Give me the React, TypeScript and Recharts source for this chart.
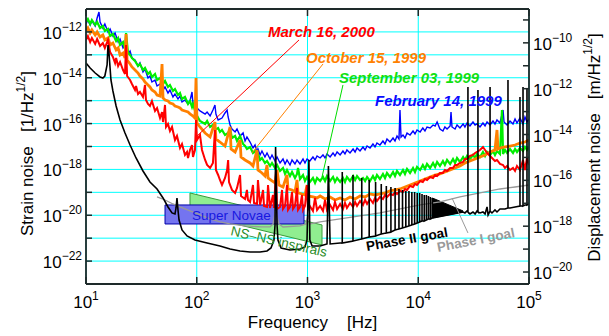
import React from "react";
import {
  ComposedChart,
  Line,
  Area,
  XAxis,
  YAxis,
  CartesianGrid,
  ReferenceLine,
  ReferenceDot,
} from "recharts";

const FONT = '"Liberation Sans", Arial, Helvetica, sans-serif';
const FRAME = "#1e2a2a";

// ---------- axes ----------
const freqTicks = [10, 100, 1000, 10000, 100000];
const strainTicks = [1e-22, 1e-21, 1e-20, 1e-19, 1e-18, 1e-17, 1e-16, 1e-15, 1e-14, 1e-13, 1e-12];
const dispTicks = [1e-20, 1e-19, 1e-18, 1e-17, 1e-16, 1e-15, 1e-14, 1e-13, 1e-12, 1e-11, 1e-10, 1e-9];
const freqDomain = [10, 100000];
const strainDomain = [1e-23, 1e-11];
const dispDomain = [3e-21, 3e-9];

// ---------- measured spectra [frequency Hz, strain 1/sqrt(Hz)] ----------
type P = [number, number];

const feb14_1999: P[] = [
  [10, 2.22e-12], [10.4, 3.31e-12], [10.9, 2.0e-12], [11.3, 3.0e-12], [12.1, 1.81e-12], [12.6, 4.05e-12], [13.1, 7.4e-12], [13.4, 2.71e-12],
  [14.2, 1.48e-12], [14.8, 2.22e-12], [15.8, 9.92e-13], [16.5, 1.34e-12], [17.5, 6.64e-13], [18.3, 8.97e-13], [19.5, 3.63e-13], [20.3, 4.91e-13],
  [21.6, 1.99e-13], [22.5, 2.69e-13], [23.9, 1.09e-13], [25, 1.47e-13], [26, 7.28e-14], [27.7, 5.95e-14], [29.5, 3.26e-14], [30.7, 4.41e-14],
  [32.7, 1.78e-14], [34.1, 2.41e-14], [36.3, 9.76e-15], [37.8, 1.19e-14], [39.4, 6.53e-15], [42, 7.99e-15], [43.8, 4.37e-15], [46.6, 5.34e-15],
  [49.6, 2.92e-15], [51.7, 3.95e-15], [55, 2.16e-15], [57.3, 2.92e-15], [61, 1.45e-15], [63.6, 1.96e-15], [67.7, 1.18e-15], [70.6, 1.6e-15],
  [73.6, 8.76e-16], [78.3, 1.07e-15], [83.4, 7.16e-16], [86.9, 9.68e-16], [90.6, 2.39e-15], [92.5, 7.16e-16], [98.5, 5.3e-16], [107, 3.55e-16],
  [119, 2.62e-16], [124, 3.21e-16], [132, 2.15e-16], [140, 3.92e-16], [146, 6.48e-16], [149, 2.62e-16], [156, 1.44e-16], [169, 1.75e-16],
  [180, 2.9e-16], [188, 3.92e-16], [192, 1.94e-16], [200, 8.69e-17], [208, 5.81e-17], [222, 4.3e-17], [231, 5.81e-17], [246, 2.88e-17],
  [262, 3.89e-17], [273, 1.74e-17], [284, 2.6e-17], [303, 1.57e-17], [322, 8.62e-18], [336, 1.16e-17], [350, 5.22e-18], [357, 7.79e-18],
  [373, 4.27e-18], [388, 6.37e-18], [413, 3.49e-18], [431, 5.22e-18], [459, 2.85e-18], [478, 4.27e-18], [509, 2.33e-18], [531, 3.49e-18],
  [565, 1.91e-18], [601, 2.85e-18], [627, 1.73e-18], [653, 2.58e-18], [695, 1.56e-18], [725, 2.58e-18], [771, 1.73e-18], [804, 2.58e-18],
  [856, 1.73e-18], [911, 2.85e-18], [949, 1.91e-18], [990, 2.85e-18], [1050, 2.33e-18], [1120, 3.49e-18], [1170, 2.58e-18], [1220, 3.86e-18],
  [1300, 3.16e-18], [1380, 4.27e-18], [1440, 3.16e-18], [1500, 4.72e-18], [1600, 3.49e-18], [1700, 5.22e-18], [1770, 3.86e-18], [1850, 5.77e-18],
  [1970, 4.27e-18], [2090, 6.37e-18], [2180, 4.72e-18], [2270, 7.05e-18], [2420, 5.22e-18], [2580, 7.79e-18], [2690, 5.77e-18], [2800, 8.62e-18],
  [2980, 6.37e-18], [3170, 9.53e-18], [3310, 7.05e-18], [3450, 1.05e-17], [3670, 8.62e-18], [3900, 1.29e-17], [4070, 9.53e-18], [4240, 1.42e-17],
  [4510, 1.16e-17], [4800, 1.74e-17], [5010, 1.29e-17], [5220, 2.13e-17], [5560, 1.57e-17], [5920, 2.35e-17], [6170, 1.74e-17], [6430, 2.88e-17],
  [6700, 2.13e-17], [6840, 3.92e-16], [6990, 2.6e-17], [7280, 3.18e-17], [7590, 2.35e-17], [7920, 3.89e-17], [8430, 3.18e-17], [8970, 4.75e-17],
  [9350, 3.52e-17], [9750, 5.26e-17], [10400, 4.3e-17], [11000, 6.43e-17], [11500, 4.75e-17], [12000, 7.11e-17], [12800, 6.43e-17], [13600, 8.69e-17],
  [14200, 7.86e-17], [14800, 1.17e-16], [15700, 5.81e-17], [16700, 4.75e-17], [17400, 7.11e-17], [18200, 5.81e-17], [19400, 7.86e-17], [19760, 3.21e-16],
  [20170, 7.11e-17], [21500, 5.81e-17], [22400, 8.69e-17], [23800, 6.43e-17], [25400, 9.61e-17], [26400, 7.11e-17], [27600, 1.06e-16], [29300, 7.86e-17],
  [31200, 1.17e-16], [32600, 8.69e-17], [33900, 9.61e-17], [36100, 7.11e-17], [38400, 1.06e-16], [40100, 7.86e-17], [41800, 1.17e-16], [44500, 8.69e-17],
  [47300, 1.3e-16], [49300, 9.61e-17], [51400, 1.44e-16], [54700, 1.06e-16], [58300, 3.92e-16], [59500, 1.17e-16], [63300, 8.69e-17], [67400, 1.3e-16],
  [71700, 9.61e-17], [74800, 1.59e-16], [77900, 1.06e-16], [82900, 1.75e-16], [88300, 9.61e-17], [92000, 1.94e-16], [95900, 1.17e-16], [100000, 1.59e-16],
];

const sep03_1999: P[] = [
  [10, 2.71e-12], [10.4, 3.66e-12], [10.9, 2.22e-12], [11.3, 3.31e-12], [12.1, 2.0e-12], [12.6, 2.71e-12], [13.4, 1.48e-12], [14.2, 1.81e-12],
  [14.8, 1.1e-12], [15.8, 1.34e-12], [16.5, 6.64e-13], [17.5, 8.11e-13], [18.7, 4.02e-13], [19.5, 5.43e-13], [20.3, 2.69e-13], [21.6, 3.63e-13],
  [22.5, 1.8e-13], [23.0, 8.97e-13], [23.9, 1.33e-13], [25, 9.84e-14], [26, 7.28e-14], [27.7, 5.38e-14], [29.5, 3.26e-14], [30.7, 3.98e-14],
  [32.7, 2.18e-14], [34.1, 2.67e-14], [36.3, 1.46e-14], [37.8, 1.78e-14], [39.4, 1.08e-14], [42, 1.46e-14], [43.8, 7.99e-15], [46.6, 9.76e-15],
  [49.6, 5.34e-15], [51.7, 7.22e-15], [55, 3.95e-15], [57.3, 4.83e-15], [61, 2.64e-15], [63.6, 3.23e-15], [67.7, 1.77e-15], [70.6, 2.16e-15],
  [73.6, 1.18e-15], [78.3, 1.45e-15], [83.4, 7.16e-16], [86.9, 9.68e-16], [90.6, 5.3e-16], [92.5, 7.16e-16], [98.5, 2.62e-16], [107, 1.3e-16],
  [119, 9.61e-17], [124, 1.3e-16], [132, 7.11e-17], [140, 8.69e-17], [146, 5.26e-17], [156, 6.43e-17], [162, 4.3e-17], [169, 5.26e-17],
  [180, 3.18e-17], [192, 3.89e-17], [200, 5.81e-17], [208, 2.35e-17], [222, 2.88e-17], [231, 1.74e-17], [246, 2.88e-17], [262, 1.29e-17],
  [273, 1.05e-17], [284, 7.79e-18], [303, 9.53e-18], [322, 5.22e-18], [336, 6.37e-18], [350, 3.86e-18], [357, 4.72e-18], [373, 2.58e-18],
  [388, 3.16e-18], [413, 1.91e-18], [431, 2.33e-18], [459, 1.41e-18], [478, 1.91e-18], [509, 1.16e-18], [531, 1.56e-18], [565, 8.55e-19],
  [601, 1.16e-18], [627, 6.32e-19], [653, 9.45e-19], [695, 5.17e-19], [725, 7.73e-19], [771, 4.23e-19], [804, 6.32e-19], [821, 1.16e-18],
  [856, 3.83e-19], [911, 5.72e-19], [949, 3.13e-19], [990, 4.68e-19], [1050, 2.83e-19], [1120, 4.23e-19], [1170, 2.56e-19], [1220, 4.23e-19],
  [1300, 3.13e-19], [1380, 4.68e-19], [1440, 3.13e-19], [1500, 5.17e-19], [1600, 3.13e-19], [1700, 4.68e-19], [1770, 2.83e-19], [1850, 4.23e-19],
  [1970, 2.83e-19], [2090, 4.23e-19], [2180, 2.83e-19], [2270, 4.68e-19], [2420, 3.13e-19], [2580, 5.17e-19], [2690, 3.46e-19], [2800, 5.17e-19],
  [2980, 3.46e-19], [3170, 4.23e-19], [3310, 3.13e-19], [3450, 4.68e-19], [3670, 3.13e-19], [3900, 5.17e-19], [4070, 3.46e-19], [4240, 5.72e-19],
  [4510, 3.83e-19], [4800, 6.32e-19], [5010, 4.23e-19], [5220, 6.99e-19], [5560, 4.68e-19], [5920, 7.73e-19], [6170, 5.17e-19], [6430, 8.55e-19],
  [6840, 5.72e-19], [7280, 9.45e-19], [7590, 6.32e-19], [7920, 1.05e-18], [8430, 6.99e-19], [8970, 1.16e-18], [9350, 7.73e-19], [9750, 1.28e-18],
  [10400, 9.45e-19], [11000, 1.56e-18], [11500, 1.05e-18], [12000, 1.73e-18], [12800, 1.16e-18], [13600, 1.91e-18], [14200, 1.28e-18], [14800, 2.11e-18],
  [15700, 1.41e-18], [16700, 2.33e-18], [17400, 1.56e-18], [18200, 2.58e-18], [19400, 1.73e-18], [20600, 2.85e-18], [21500, 1.91e-18], [22400, 3.16e-18],
  [23800, 2.11e-18], [25400, 3.49e-18], [26400, 2.58e-18], [27600, 3.86e-18], [29300, 2.85e-18], [31200, 4.27e-18], [32600, 3.16e-18], [33900, 4.72e-18],
  [36100, 3.49e-18], [38400, 5.77e-18], [40100, 3.86e-18], [41800, 5.77e-18], [44500, 4.27e-18], [47300, 6.37e-18], [49300, 4.27e-18], [51400, 6.37e-18],
  [54700, 4.72e-18], [57000, 3.92e-16], [58300, 4.72e-18], [60700, 7.05e-18], [63300, 5.22e-18], [67400, 7.79e-18], [71700, 5.22e-18], [74800, 7.79e-18],
  [77900, 5.77e-18], [82900, 8.62e-18], [88300, 6.37e-18], [92000, 9.53e-18], [95900, 7.05e-18], [100000, 9.53e-18],
];

const oct15_1999: P[] = [
  [10, 1.1e-12], [10.4, 1.48e-12], [10.9, 8.97e-13], [11.3, 1.21e-12], [12.1, 7.34e-13], [12.6, 9.92e-13], [13.4, 6.0e-13], [14.2, 7.34e-13],
  [14.8, 4.44e-13], [15.8, 5.43e-13], [16.5, 2.69e-13], [17.5, 3.28e-13], [18.7, 1.63e-13], [19.5, 1.99e-13], [20.3, 9.84e-14], [21.6, 1.2e-13],
  [22.5, 7.28e-14], [23.0, 8.11e-13], [23.5, 5.95e-14], [25, 3.98e-14], [26, 2.95e-14], [27.7, 2.18e-14], [29.5, 1.61e-14], [30.7, 1.19e-14],
  [32.7, 8.83e-15], [34.1, 6.53e-15], [36.3, 4.83e-15], [37.8, 3.95e-15], [39.4, 2.92e-15], [42, 2.39e-15], [43.8, 1.77e-15], [46.6, 1.6e-15],
  [48.6, 3.98e-14], [49.6, 1.31e-15], [51.7, 1.07e-15], [55, 9.68e-16], [57.3, 7.92e-16], [61, 7.16e-16], [63.6, 5.86e-16], [67.7, 5.3e-16],
  [70.6, 4.79e-16], [73.6, 3.92e-16], [78.3, 3.55e-16], [83.4, 3.21e-16], [86.9, 2.62e-16], [92.5, 2.15e-16], [96.4, 1.75e-16], [98.5, 9.76e-15],
  [100.5, 1.06e-16], [107, 7.11e-17], [119, 3.89e-17], [132, 2.6e-17], [146, 1.17e-16], [149, 2.13e-17], [162, 1.57e-17], [180, 1.05e-17],
  [200, 7.11e-17], [204, 7.79e-18], [222, 5.77e-18], [246, 1.93e-17], [251, 3.49e-18], [273, 2.58e-18], [303, 1.91e-18], [322, 1.41e-18],
  [350, 7.05e-18], [357, 9.45e-19], [388, 6.99e-19], [413, 5.17e-19], [431, 1.56e-18], [440, 4.23e-19], [478, 3.13e-19], [509, 2.56e-19],
  [531, 9.45e-19], [553, 2.09e-19], [601, 1.71e-19], [653, 5.72e-19], [667, 1.4e-19], [725, 1.27e-19], [771, 1.04e-19], [804, 3.46e-19],
  [821, 9.38e-20], [892, 8.48e-20], [949, 7.67e-20], [990, 2.09e-19], [1010, 6.94e-20], [1120, 6.27e-20], [1220, 5.67e-20], [1300, 6.94e-20],
  [1440, 5.13e-20], [1600, 6.27e-20], [1770, 4.64e-20], [1970, 5.67e-20], [2180, 4.64e-20], [2420, 6.27e-20], [2690, 5.13e-20], [2980, 6.94e-20],
  [3310, 6.27e-20], [3670, 8.48e-20], [4070, 7.67e-20], [4510, 8.48e-20], [5010, 9.38e-20], [5560, 1.15e-19], [6170, 1.27e-19], [6840, 1.4e-19],
  [7590, 1.71e-19], [8430, 2.09e-19], [9350, 2.56e-19], [10400, 3.13e-19], [11500, 3.83e-19], [12800, 4.68e-19], [14200, 5.72e-19], [15700, 6.32e-19],
  [17400, 7.73e-19], [19400, 9.45e-19], [21500, 1.16e-18], [23800, 1.41e-18], [26400, 1.91e-18], [29300, 2.33e-18], [32600, 2.85e-18], [36100, 3.49e-18],
  [40100, 4.27e-18], [44500, 5.77e-18], [49300, 7.05e-18], [51400, 5.26e-17], [52500, 7.79e-18], [54700, 8.62e-18], [60700, 9.53e-18], [67400, 1.05e-17],
  [74800, 1.16e-17], [82900, 1.42e-17], [92000, 1.57e-17], [100000, 1.93e-17],
];

const mar16_2000: P[] = [
  [10, 4.44e-13], [10.4, 6.64e-13], [10.9, 3.63e-13], [11.3, 5.43e-13], [12.1, 2.97e-13], [12.6, 4.91e-13], [13.4, 2.43e-13], [14.2, 3.28e-13],
  [14.8, 1.99e-13], [15.8, 4.44e-13], [16.5, 1.33e-13], [17.5, 8.05e-14], [18.3, 4.41e-14], [18.7, 7.28e-14], [19.5, 3.26e-14], [20.3, 4.87e-14],
  [21.6, 2.18e-14], [22.5, 1.46e-14], [23.0, 2.69e-13], [23.5, 1.19e-14], [25, 7.99e-15], [26, 5.34e-15], [27.7, 2.92e-15], [28.3, 4.37e-15],
  [29.5, 1.96e-15], [30.7, 2.39e-15], [32.7, 1.45e-15], [34.1, 4.83e-15], [34.8, 1.07e-15], [36.3, 7.16e-16], [37.8, 5.86e-16], [39.4, 9.68e-16],
  [42, 3.55e-16], [43.8, 4.79e-16], [46.6, 1.75e-16], [48.6, 3.21e-16], [49.6, 1.17e-16], [51.7, 6.48e-16], [52.8, 7.11e-17], [55, 9.61e-17],
  [57.3, 4.75e-17], [59.8, 7.11e-17], [63.6, 1.93e-17], [66.3, 2.88e-17], [70.6, 8.62e-18], [73.6, 1.29e-17], [78.3, 4.27e-18], [81.7, 5.77e-18],
  [83.4, 3.16e-18], [86.9, 7.05e-18], [90.6, 1.16e-17], [92.5, 3.49e-18], [96.4, 7.05e-18], [98.5, 1.44e-16], [100.5, 1.93e-17], [107, 3.18e-17],
  [111.5, 7.05e-18], [119, 2.58e-18], [124, 1.56e-18], [132, 1.16e-18], [140, 1.91e-18], [146, 5.26e-17], [149, 9.45e-19], [156, 5.72e-19],
  [162, 3.46e-19], [169, 2.09e-19], [180, 4.23e-19], [188, 9.45e-19], [192, 2.58e-18], [195.5, 2.83e-19], [208, 1.27e-19], [222, 9.38e-20],
  [231, 1.55e-19], [246, 5.72e-19], [251, 6.94e-20], [273, 5.13e-20], [284, 1.27e-19], [290, 4.64e-20], [303, 3.8e-20], [322, 2.09e-19],
  [329, 3.43e-20], [350, 3.11e-20], [357, 3.46e-19], [373, 2.81e-20], [397, 1.27e-19], [405, 2.54e-20], [431, 2.3e-20], [440, 2.09e-19],
  [459, 2.08e-20], [488, 7.67e-20], [498, 2.08e-20], [520, 9.45e-19], [531, 1.88e-20], [565, 2.3e-20], [589, 1.27e-19], [601, 1.88e-20],
  [627, 2.54e-20], [653, 2.09e-19], [667, 1.7e-20], [695, 2.3e-20], [725, 1.04e-19], [740, 1.88e-20], [771, 2.54e-20], [804, 1.55e-19],
  [821, 1.7e-20], [856, 2.3e-20], [892, 7.67e-20], [911, 1.7e-20], [949, 2.54e-20], [990, 2.09e-19], [1010, 1.7e-20], [1050, 2.54e-20],
  [1120, 1.54e-20], [1170, 5.67e-20], [1220, 1.7e-20], [1300, 2.54e-20], [1380, 1.54e-20], [1440, 4.64e-20], [1500, 1.7e-20], [1600, 2.81e-20],
  [1700, 1.7e-20], [1770, 3.8e-20], [1850, 1.88e-20], [1970, 3.11e-20], [2090, 1.88e-20], [2180, 3.43e-20], [2270, 2.08e-20], [2420, 3.43e-20],
  [2580, 2.3e-20], [2690, 3.8e-20], [2800, 2.54e-20], [2980, 4.2e-20], [3170, 2.81e-20], [3310, 4.64e-20], [3450, 3.11e-20], [3670, 5.13e-20],
  [3900, 3.43e-20], [4070, 5.67e-20], [4240, 4.2e-20], [4510, 6.27e-20], [4800, 5.13e-20], [5010, 7.67e-20], [5220, 6.27e-20], [5560, 8.48e-20],
  [5920, 7.67e-20], [6170, 1.04e-19], [6430, 8.48e-20], [6840, 1.15e-19], [7280, 1.04e-19], [7590, 1.4e-19], [7920, 1.27e-19], [8430, 1.89e-19],
  [8970, 1.71e-19], [9350, 2.32e-19], [9750, 2.09e-19], [10400, 3.13e-19], [11000, 2.83e-19], [11500, 3.83e-19], [12000, 3.46e-19], [12800, 4.68e-19],
  [13600, 4.23e-19], [14200, 5.72e-19], [14800, 5.17e-19], [15700, 6.99e-19], [16700, 6.99e-19], [17400, 9.45e-19], [18200, 8.55e-19], [19400, 1.16e-18],
  [20600, 1.16e-18], [21500, 1.56e-18], [22400, 1.56e-18], [23800, 1.91e-18], [25400, 2.11e-18], [26400, 2.85e-18], [27600, 2.85e-18], [29300, 3.86e-18],
  [31200, 4.27e-18], [32600, 5.22e-18], [33900, 5.77e-18], [36100, 7.05e-18], [38400, 9.53e-18], [40100, 7.05e-18], [41800, 5.22e-18], [44500, 3.86e-18],
  [47300, 2.85e-18], [49300, 2.33e-18], [51400, 2.58e-18], [54700, 1.73e-18], [58300, 1.56e-18], [60700, 1.16e-18], [63300, 1.41e-18], [67400, 9.45e-19],
  [71700, 1.16e-18], [74800, 8.55e-19], [77900, 1.41e-18], [82900, 9.45e-19], [88300, 2.58e-18], [92000, 9.45e-19], [95900, 3.16e-18], [100000, 1.56e-18],
];

// ---------- design sensitivity goals ----------
const phaseIIGoal: P[] = [
  [10, 4.41e-14], [10.9, 2.67e-14], [12.1, 1.61e-14], [13.4, 1.08e-14], [14.2, 9.76e-15], [14.8, 1.19e-14], [15.5, 3.6e-14], [15.8, 2.69e-13],
  [16.1, 1.33e-13], [16.8, 7.99e-15], [17.5, 2.64e-15], [18.7, 5.86e-16], [20.3, 1.44e-16], [22.5, 3.89e-17], [25, 1.16e-17], [28.3, 3.16e-18],
  [32.7, 8.55e-19], [37.8, 2.83e-19], [43.8, 1.4e-19], [49.6, 5.67e-20], [55, 2.3e-20], [59.8, 1.26e-20], [63.6, 1.14e-20], [65, 2.08e-20],
  [66.3, 5.67e-20], [67.7, 1.7e-20], [69.2, 6.22e-21], [73.6, 2.28e-21], [81.7, 1.25e-21], [96.4, 8.35e-22], [124, 6.17e-22], [162, 4.57e-22],
  [200, 3.38e-22], [246, 2.76e-22], [303, 2.5e-22], [373, 2.5e-22], [431, 2.76e-22], [468, 3.74e-22], [498, 8.35e-22], [509, 3.77e-21],
  [515, 9.53e-18], [531, 3.77e-21], [541, 8.35e-22], [577, 3.74e-22], [695, 3.06e-22], [856, 3.38e-22], [949, 4.13e-22], [990, 8.35e-22],
  [1030, 2.58e-18], [1050, 8.35e-22], [1100, 4.57e-22], [1300, 4.57e-22], [1500, 5.58e-22], [1545, 1.41e-18], [1600, 5.58e-22], [1970, 6.17e-22],
  [2060, 6.17e-22], [2060, 7.73e-19], [2060, 6.17e-22],
  [2575, 7.55e-22], [2575, 5.72e-19], [2575, 7.55e-22],
  [3090, 9.23e-22], [3090, 4.23e-19], [3090, 9.23e-22],
  [3605, 1.13e-21], [3605, 3.46e-19], [3605, 1.13e-21],
  [4120, 1.25e-21], [4120, 2.83e-19], [4120, 1.25e-21],
  [4635, 1.52e-21], [4635, 2.32e-19], [4635, 1.52e-21],
  [5150, 1.69e-21], [5150, 1.89e-19], [5150, 1.69e-21],
  [5665, 1.86e-21], [5665, 1.71e-19], [5665, 1.86e-21],
  [6180, 2.28e-21], [6180, 1.55e-19], [6180, 2.28e-21],
  [6695, 2.52e-21], [6695, 1.4e-19], [6695, 2.52e-21],
  [7210, 2.79e-21], [7210, 1.27e-19], [7210, 2.79e-21],
  [7725, 3.08e-21], [7725, 1.15e-19], [7725, 3.08e-21],
  [8240, 3.41e-21], [8240, 1.15e-19], [8240, 3.41e-21],
  [8755, 3.77e-21], [8755, 1.04e-19], [8755, 3.77e-21],
  [9270, 4.16e-21], [9270, 1.04e-19], [9270, 4.16e-21],
  [9785, 4.6e-21], [9785, 9.38e-20], [9785, 4.6e-21],
  [10300, 5.09e-21], [10300, 9.38e-20], [10300, 5.09e-21],
  [10815, 5.63e-21], [10815, 8.48e-20], [10815, 5.63e-21],
  [11330, 5.63e-21], [11330, 7.67e-20], [11330, 5.63e-21],
  [11845, 6.22e-21], [11845, 7.67e-20], [11845, 6.22e-21],
  [12360, 6.88e-21], [12360, 6.94e-20], [12360, 6.88e-21],
  [12875, 6.88e-21], [12875, 6.27e-20], [12875, 6.88e-21],
  [13390, 7.61e-21], [13390, 5.67e-20], [13390, 7.61e-21],
  [25400, 1.39e-20], [26400, 1.26e-20], [27600, 1.54e-20], [28100, 1.39e-20], [28100, 3.95e-15], [28100, 1.39e-20], [29300, 1.14e-20], [31200, 1.39e-20],
  [32600, 1.14e-20], [33900, 1.54e-20], [34600, 1.39e-20], [34600, 2.92e-15], [34600, 1.39e-20], [36100, 1.26e-20], [38400, 1.39e-20], [40100, 1.14e-20],
  [41800, 2.3e-20], [42700, 1.03e-20], [44500, 1.54e-20], [44500, 3.95e-15], [44500, 1.54e-20], [46300, 1.26e-20], [49300, 1.7e-20], [51400, 1.39e-20],
  [54700, 1.88e-20], [60700, 1.88e-20], [64600, 2.08e-20], [64600, 7.99e-15], [64600, 2.08e-20], [67400, 2.08e-20], [74800, 2.3e-20], [82900, 2.54e-20],
  [82900, 1.45e-15], [82900, 2.54e-20], [88300, 2.54e-20], [88300, 3.95e-15], [88300, 2.54e-20], [92000, 2.81e-20], [95900, 2.81e-20], [95900, 3.57e-15],
  [95900, 2.81e-20], [100000, 3.11e-20],
];
// dense violin-mode comb, drawn as a filled band [low, high]
const phaseIICombBand: [number, number, number][] = [
  [13390, 7.61e-21, 5.67e-20],
  [25400, 1.39e-20, 1.54e-20],
];

const phaseIGoal: P[] = [
  [43.8, 6.27e-20], [51.7, 4.64e-20], [61, 3.11e-20], [70.6, 2.3e-20], [86.9, 1.54e-20], [107, 1.03e-20], [132, 6.88e-21], [162, 5.09e-21],
  [200, 4.16e-21], [273, 3.41e-21], [388, 3.08e-21], [459, 3.08e-21], [488, 4.16e-21], [505, 1.03e-20], [515, 2.81e-20], [525, 1.03e-20],
  [553, 4.16e-21], [601, 3.08e-21], [856, 3.41e-21], [969, 4.16e-21], [1010, 1.03e-20], [1050, 4.16e-21], [1300, 5.09e-21], [1970, 6.88e-21],
  [2980, 9.3e-21], [4510, 1.26e-20], [6840, 1.88e-20], [10400, 2.81e-20], [15700, 3.8e-20], [23800, 6.27e-20], [36100, 9.38e-20], [54700, 1.4e-19],
  [74800, 1.71e-19], [100000, 2.09e-19],
];

// ---------- source regions ----------
const superNovaeBand: [number, number, number][] = [
  [51.7, 4.16e-21, 2.81e-20],
  [930, 4.16e-21, 2.81e-20],
];
const superNovaeOutline: P[] = [
  [51.7, 4.16e-21], [51.7, 2.81e-20], [930, 2.81e-20], [930, 4.16e-21], [51.7, 4.16e-21],
];
const nsInspiralBand: [number, number, number][] = [
  [86.9, 1.26e-20, 9.38e-20],
  [1352, 5.05e-22, 3.77e-21],
];
const nsInspiralEdges: [number, number | null][] = [
  [86.9, 9.38e-20], [86.9, 2.81e-20], [500, null], [1352, 3.77e-21], [1352, 5.05e-22],
];

// ---------- annotations ----------
const traceLabels = [
  { text: "March 16, 2000", f: 440, v: 6.3e-13, color: "#ff0000" },
  { text: "October 15, 1999", f: 969, v: 4.41e-14, color: "#ff8000" },
  { text: "September 03, 1999", f: 1925, v: 5.91e-15, color: "#11e011" },
  { text: "February 14, 1999", f: 4069, v: 5.57e-16, color: "#0a0aff" },
];
const regionLabels = [
  { text: "Super Novae", f: 90.6, v: 6.22e-21, color: "#1818e0", weight: "normal", angle: 0 },
  { text: "NS\u2013NS inspirals", f: 200, v: 1.38e-21, color: "#2a8c2a", weight: "normal", angle: 13 },
  { text: "Phase II goal", f: 3450, v: 2.76e-22, color: "#000000", weight: "bold", angle: -10 },
  { text: "Phase I goal", f: 15080, v: 2.5e-22, color: "#999999", weight: "bold", angle: -11 },
];
const pointers = [
  { color: "#ff0000", a: [838, 4.44e-13], b: [98.5, 2.6e-17] },
  { color: "#ff8000", a: [1380, 3.98e-14], b: [315, 5.22e-18] },
  { color: "#00dd00", a: [2090, 4.83e-15], b: [1352, 4.68e-19] },
  { color: "#999999", a: [20170, 5.67e-20], b: [28100, 1.69e-21] },
];

const COLORS = {
  feb: "#0000ff",
  sep: "#00ee00",
  oct: "#ff8000",
  mar: "#ff0000",
};

const rows = (a: P[]) => a.map(([f, v]) => ({ f, v }));
const bandRows = (a: [number, number, number][]) => a.map(([f, lo, hi]) => ({ f, r: [lo, hi] }));

// ---------- tick renderers ----------
const exp10 = (v: number) => Math.round(Math.log10(v));

const BottomTick = (p: any) => {
  const { x, y, payload } = p;
  return (
    <g>
      <line x1={x} x2={x} y1={y} y2={y - 7} stroke={FRAME} strokeWidth={1.5} />
      <text x={x} y={y + 24} textAnchor="middle" fontSize={17} fontFamily={FONT} fill="#000">
        10<tspan dy={-8} fontSize={12}>{String(exp10(payload.value))}</tspan>
      </text>
    </g>
  );
};
const TopTick = (p: any) => {
  const { x, y } = p;
  return <line x1={x} x2={x} y1={y} y2={y + 7} stroke={FRAME} strokeWidth={1.5} />;
};
const LeftTick = (p: any) => {
  const { x, y, payload } = p;
  const e = exp10(payload.value);
  return (
    <g>
      <line x1={x} x2={x + 6} y1={y} y2={y} stroke={FRAME} strokeWidth={1.5} />
      {e % 2 === 0 && (
        <text x={x - 4} y={y + 7} textAnchor="end" fontSize={17} fontFamily={FONT} fill="#000">
          10<tspan dy={-8} fontSize={12}>{"\u2212" + Math.abs(e)}</tspan>
        </text>
      )}
    </g>
  );
};
const RightTick = (p: any) => {
  const { x, y, payload } = p;
  const e = exp10(payload.value);
  return (
    <g>
      <line x1={x - 6} x2={x} y1={y} y2={y} stroke={FRAME} strokeWidth={1.5} />
      {e % 2 === 0 && (
        <text x={x + 4} y={y + 7} textAnchor="start" fontSize={17} fontFamily={FONT} fill="#000">
          10<tspan dy={-8} fontSize={12}>{"\u2212" + Math.abs(e)}</tspan>
        </text>
      )}
    </g>
  );
};

// ---------- axis titles ----------
const BottomTitle = (p: any) => {
  const vb = p.viewBox || { x: 86, y: 284, width: 443, height: 52 };
  return (
    <text x={vb.x + vb.width / 2 + 5} y={vb.y + 44} textAnchor="middle" fontSize={17} fontFamily={FONT} fill="#000">
      {"Frequency\u00a0\u00a0\u00a0\u00a0[Hz]"}
    </text>
  );
};
const LeftTitle = (p: any) => {
  const vb = p.viewBox || { x: 0, y: 9, width: 86, height: 275 };
  const x = vb.x + 33;
  const y = vb.y + vb.height / 2 + 7;
  return (
    <text x={x} y={y} transform={`rotate(-90, ${x}, ${y})`} textAnchor="middle" fontSize={17} fontFamily={FONT} fill="#000">
      {"Strain noise\u00a0\u00a0\u00a0[1/Hz"}
      <tspan dy={-8} fontSize={12}>1/2</tspan>
      <tspan dy={8}>]</tspan>
    </text>
  );
};
const RightTitle = (p: any) => {
  const vb = p.viewBox || { x: 529, y: 9, width: 80, height: 275 };
  const x = vb.x + 71;
  const y = vb.y + vb.height / 2 + 1;
  return (
    <text x={x} y={y} transform={`rotate(-90, ${x}, ${y})`} textAnchor="middle" fontSize={17} fontFamily={FONT} fill="#000">
      {"Displacement noise\u00a0\u00a0\u00a0[m/Hz"}
      <tspan dy={-8} fontSize={12}>1/2</tspan>
      <tspan dy={8}>]</tspan>
    </text>
  );
};

const textShape = (text: string, color: string, weight: string, italic: boolean, size: number, angle: number) =>
  (p: any) => (
    <text
      x={p.cx}
      y={p.cy}
      fill={color}
      fontSize={size}
      fontWeight={weight}
      fontStyle={italic ? "italic" : "normal"}
      fontFamily={FONT}
      transform={angle ? `rotate(${angle}, ${p.cx}, ${p.cy})` : undefined}
    >
      {text}
    </text>
  );

export default function App() {
  return (
    <div style={{ position: "absolute", left: 0, top: 0, width: 609, height: 336, background: "#fff" }}>
      <ComposedChart width={609} height={336} margin={{ top: 0, right: 0, bottom: 0, left: 0 }} style={{ fontFamily: FONT }}>
        <CartesianGrid stroke="#00ffff" strokeWidth={1} horizontal vertical />
        <XAxis
          dataKey="f" type="number" scale="log" domain={freqDomain} allowDataOverflow ticks={freqTicks} interval={0}
          height={52} tickSize={0} tickMargin={0} tickLine={false}
          axisLine={{ stroke: FRAME, strokeWidth: 1.8 }} tick={<BottomTick />} label={<BottomTitle />}
        />
        <XAxis
          xAxisId="top" orientation="top" dataKey="f" type="number" scale="log" domain={freqDomain} allowDataOverflow
          ticks={freqTicks} interval={0} height={9} tickSize={0} tickMargin={0} tickLine={false}
          axisLine={{ stroke: FRAME, strokeWidth: 1.8 }} tick={<TopTick />}
        />
        <YAxis
          type="number" scale="log" domain={strainDomain} allowDataOverflow ticks={strainTicks} interval={0}
          width={86} tickSize={0} tickMargin={0} tickLine={false}
          axisLine={{ stroke: FRAME, strokeWidth: 1.8 }} tick={<LeftTick />} label={<LeftTitle />}
        />
        <YAxis
          yAxisId="right" orientation="right" type="number" scale="log" domain={dispDomain} allowDataOverflow
          ticks={dispTicks} interval={0} width={80} tickSize={0} tickMargin={0} tickLine={false}
          axisLine={{ stroke: FRAME, strokeWidth: 1.8 }} tick={<RightTick />} label={<RightTitle />}
        />

        <Area data={bandRows(nsInspiralBand)} dataKey="r" type="linear" fill="#90ee90" fillOpacity={1} stroke="#3a9a3a" strokeWidth={1} isAnimationActive={false} />
        <Area data={bandRows(superNovaeBand)} dataKey="r" type="linear" fill="#7474f0" fillOpacity={1} stroke="none" isAnimationActive={false} />
        <Area data={bandRows(phaseIICombBand)} dataKey="r" type="linear" fill="#000" fillOpacity={1} stroke="#000" strokeWidth={1} isAnimationActive={false} />

        <Line data={nsInspiralEdges.map(([f, v]) => ({ f, v }))} dataKey="v" type="linear" stroke="#3a9a3a" strokeWidth={1} dot={false} activeDot={false} connectNulls={false} isAnimationActive={false} />
        <Line data={rows(superNovaeOutline)} dataKey="v" type="linear" stroke="#0000a8" strokeWidth={1} dot={false} activeDot={false} isAnimationActive={false} />

        <Line data={rows(phaseIGoal)} dataKey="v" type="linear" stroke="#999999" strokeWidth={1.3} dot={false} activeDot={false} isAnimationActive={false} />
        <Line data={rows(feb14_1999)} dataKey="v" type="linear" stroke={COLORS.feb} strokeWidth={1.4} dot={false} activeDot={false} isAnimationActive={false} />
        <Line data={rows(sep03_1999)} dataKey="v" type="linear" stroke={COLORS.sep} strokeWidth={2.2} dot={false} activeDot={false} isAnimationActive={false} />
        <Line data={rows(oct15_1999)} dataKey="v" type="linear" stroke={COLORS.oct} strokeWidth={2.8} dot={false} activeDot={false} isAnimationActive={false} />
        <Line data={rows(mar16_2000)} dataKey="v" type="linear" stroke={COLORS.mar} strokeWidth={2} dot={false} activeDot={false} isAnimationActive={false} />
        <Line data={rows(phaseIIGoal)} dataKey="v" type="linear" stroke="#000000" strokeWidth={1.6} dot={false} activeDot={false} isAnimationActive={false} />

        {pointers.map((p, i) => (
          <ReferenceLine
            key={"ptr" + i}
            segment={[{ x: p.a[0], y: p.a[1] }, { x: p.b[0], y: p.b[1] }]}
            stroke={p.color}
            strokeWidth={1}
          />
        ))}
        {traceLabels.map((l, i) => (
          <ReferenceDot key={"tl" + i} x={l.f} y={l.v} r={0} shape={textShape(l.text, l.color, "bold", true, 15, 0)} />
        ))}
        {regionLabels.map((l, i) => (
          <ReferenceDot key={"rl" + i} x={l.f} y={l.v} r={0} shape={textShape(l.text, l.color, l.weight, false, 13.5, l.angle)} />
        ))}
      </ComposedChart>
    </div>
  );
}
